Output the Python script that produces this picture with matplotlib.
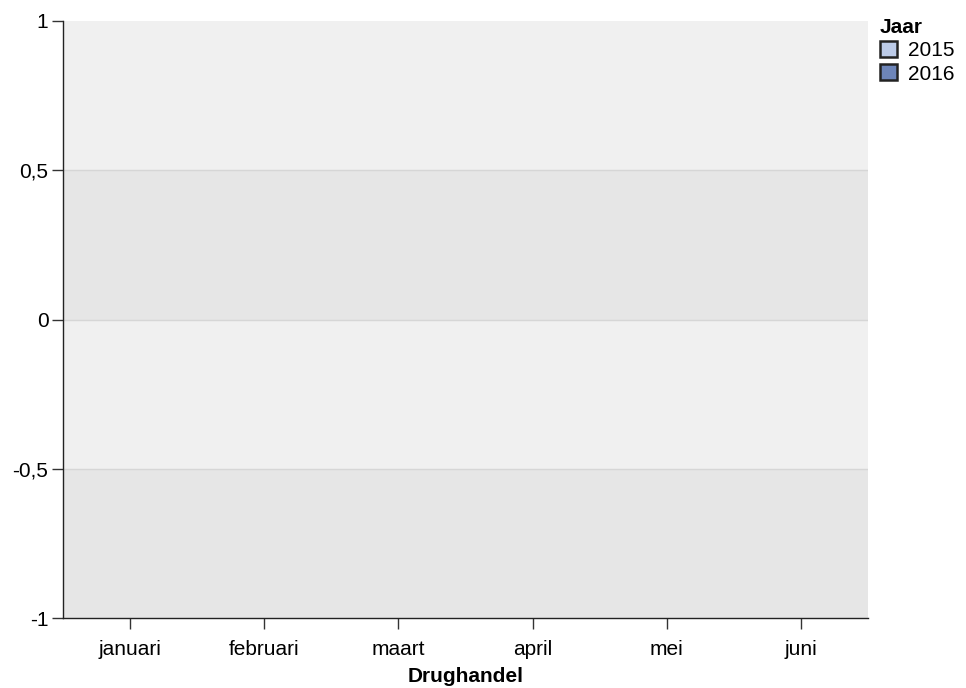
import matplotlib
matplotlib.use("Agg")
from matplotlib import pyplot as plt
from matplotlib.patches import Patch
import numpy as np

plt.rcParams['font.family'] = ['Liberation Sans', 'DejaVu Sans']

maanden = ['januari', 'februari', 'maart', 'april', 'mei', 'juni']
jaren = ['2015', '2016']
# geen meldingen in de data: alle waarden leeg
waarden_2015 = [np.nan, np.nan, np.nan, np.nan, np.nan, np.nan]
waarden_2016 = [np.nan, np.nan, np.nan, np.nan, np.nan, np.nan]
kleuren = ['#bccbe8', '#6d85b9']
y_ticks = [-1, -0.5, 0, 0.5, 1]
y_labels = ['-1', '-0,5', '0', '0,5', '1']


def main():
    fig = plt.figure(figsize=(9.66, 6.88), dpi=100)
    ax = fig.add_axes([0.0652, 0.1017, 0.8334, 0.8678])

    x = np.arange(len(maanden))
    w = 0.35
    ax.bar(x - w / 2, waarden_2015, w, color=kleuren[0], edgecolor='#333333')
    ax.bar(x + w / 2, waarden_2016, w, color=kleuren[1], edgecolor='#333333')

    ax.set_xlim(-0.5, len(maanden) - 0.5)
    ax.set_ylim(-1, 1)
    # afwisselende banden
    for lo, hi, c in [(0.5, 1, '#f0f0f0'), (0, 0.5, '#e6e6e6'),
                      (-0.5, 0, '#f0f0f0'), (-1, -0.5, '#e6e6e6')]:
        ax.axhspan(lo, hi, color=c, zorder=0, lw=0)
    for yv in [-0.5, 0, 0.5]:
        ax.axhline(yv, color='#d6d6d6', lw=1, zorder=1)

    ax.set_yticks(y_ticks)
    ax.set_yticklabels(y_labels)
    ax.set_xticks(x)
    ax.set_xticklabels(maanden)
    ax.tick_params(axis='both', labelsize=15, width=1, color='#333333')
    ax.tick_params(axis='y', length=8, pad=2.5)
    ax.tick_params(axis='x', length=8, pad=7.5)
    for s in ['top', 'right']:
        ax.spines[s].set_visible(False)
    for s in ['left', 'bottom']:
        ax.spines[s].set_color('#222222')
        ax.spines[s].set_linewidth(1)
    ax.set_xlabel('Drughandel', fontsize=15, fontweight='bold', labelpad=6)

    handles = [Patch(facecolor=kleuren[i], edgecolor='#222222', lw=1.8, label=jaren[i]) for i in range(len(jaren))]
    leg = fig.legend(handles=handles, title='Jaar', loc='upper left', bbox_to_anchor=(0.911, 0.974),
                     frameon=False, fontsize=15, title_fontsize=15, handlelength=0.8, handleheight=0.8,
                     handletextpad=0.55, labelspacing=0.2, borderaxespad=0, borderpad=0)
    leg.get_title().set_fontweight('bold')
    leg._legend_box.align = 'left'

    fig.savefig('out.png', dpi=100)


if __name__ == '__main__':
    main()
